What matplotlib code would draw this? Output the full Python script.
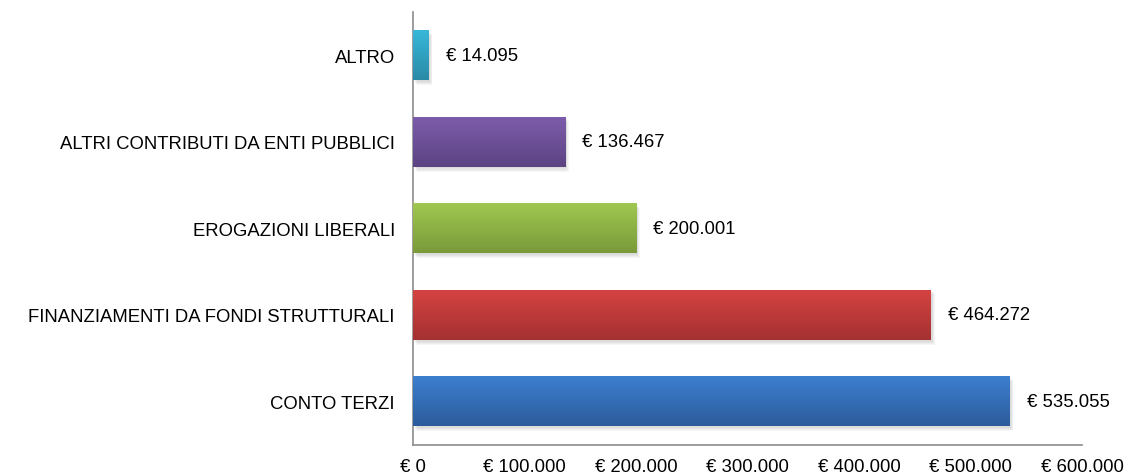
import numpy as np
import matplotlib.pyplot as plt
import matplotlib.colors as mcolors
from matplotlib.patches import Rectangle

categories = ['CONTO TERZI', 'FINANZIAMENTI DA FONDI STRUTTURALI', 'EROGAZIONI LIBERALI',
              'ALTRI CONTRIBUTI DA ENTI PUBBLICI', 'ALTRO']
values = [535055, 464272, 200001, 136467, 14095]
top_colors = ['#3d7fd0', '#d54343', '#a0c850', '#7d5cab', '#38b8da']
bottom_colors = ['#2c5c9c', '#a53131', '#7a9a3a', '#5c4383', '#2a8aa6']
xticks = [0, 100000, 200000, 300000, 400000, 500000, 600000]


def euro(v):
    return '€ ' + f'{v:,}'.replace(',', '.')


plt.rcParams['font.family'] = ['Liberation Sans', 'DejaVu Sans']
fs = 13.3
fig = plt.figure(figsize=(11.25, 4.77), dpi=100)
ax = fig.add_axes([0.367, 0.066, 0.595, 0.907])

ypos = np.arange(len(categories))
h = 0.58
bars = ax.barh(ypos, values, height=h, color='none', zorder=3)

for i, b in enumerate(bars):
    x0, y0, w, hh = b.get_x(), b.get_y(), b.get_width(), b.get_height()
    # soft shadow
    for k in range(4):
        ax.add_patch(Rectangle((x0 + 1500 + k * 600, y0 - 0.02 - k * 0.012), w, hh,
                               facecolor='black', alpha=0.035, edgecolor='none', zorder=2))
    cmap = mcolors.LinearSegmentedColormap.from_list('g', [bottom_colors[i], top_colors[i]])
    grad = np.linspace(0, 1, 64).reshape(-1, 1)
    im = ax.imshow(grad, extent=[x0, x0 + w, y0, y0 + hh], origin='lower', cmap=cmap,
                   aspect='auto', zorder=3, interpolation='bicubic')
    im.set_clip_path(b)
    ax.text(values[i] + 17 * 600000 / 669, ypos[i], euro(values[i]),
            va='center', ha='left', fontsize=fs, zorder=4)

ax.set_xlim(0, 600000)
ax.set_ylim(-0.5, len(categories) - 0.5)
ax.set_xticks(xticks)
ax.set_xticklabels([euro(v) for v in xticks], fontsize=fs)
ax.set_yticks(ypos)
ax.set_yticklabels(categories, fontsize=fs)
ax.tick_params(length=0)
ax.tick_params(axis='x', pad=10)
ax.tick_params(axis='y', pad=13)
for s in ['top', 'right']:
    ax.spines[s].set_visible(False)
for s in ['left', 'bottom']:
    ax.spines[s].set_color('#8c8c8c')
    ax.spines[s].set_linewidth(1.2)

fig.savefig('out.png', dpi=100)
